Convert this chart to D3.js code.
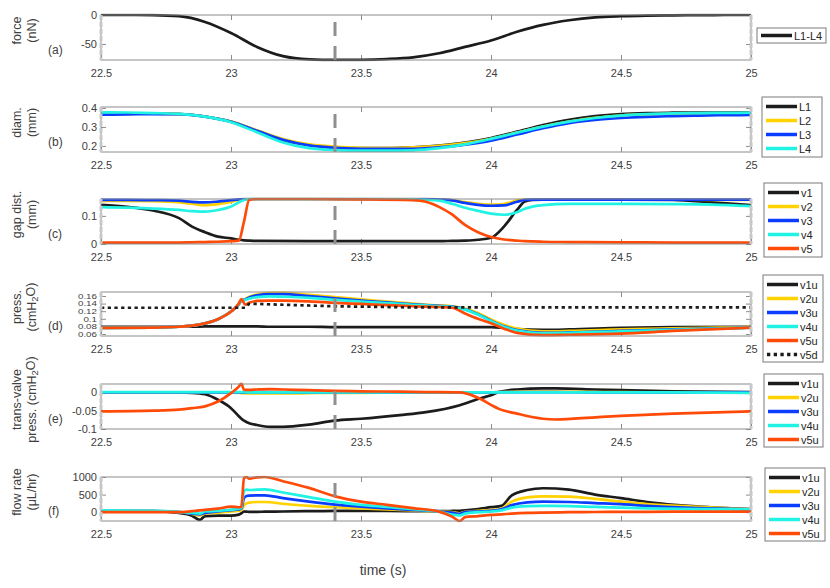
<!DOCTYPE html>
<html lang="en">
<head>
  <meta charset="UTF-8">
  <title>Valve dynamics</title>
  <script src="https://d3js.org/d3.v7.min.js"></script>
  <style>
    html, body { margin: 0; padding: 0; background: #fff; }
    svg { font-family: "Liberation Sans", Arial, sans-serif; }
    .line { fill: none; stroke-width: 2.7px; stroke-linejoin: round; stroke-linecap: round; }
    .tick line { stroke: #8c8c8c; }
    .tick text { fill: #404040; }
  </style>
</head>
<body>
  <div id="container"></div>
  <script>
    // ---- time axis
    const xTicks = [22.5, 23, 23.5, 24, 24.5, 25];
    const markerTime = 23.4;

    // ---- (a) force
    const tA = [22.5, 22.6, 22.7, 22.8, 22.9, 23.0, 23.1, 23.2, 23.3, 23.4, 23.5, 23.6, 23.7, 23.8, 23.9, 24.0, 24.1, 24.2, 24.3, 24.4, 24.5, 24.6, 24.7, 24.8, 24.9, 25.0];
    const forceL = [0, 0, -0.3, -2, -12, -31, -55, -71, -76.5, -77.5, -77.3, -76, -73, -66, -55, -44, -29, -17, -9, -4, -2, -1, -0.5, -0.2, 0, 0];

    // ---- (b) diameter
    const tB = tA;
    const diamL1 = [0.37, 0.37, 0.37, 0.368, 0.355, 0.328, 0.28, 0.232, 0.205, 0.193, 0.188, 0.188, 0.192, 0.202, 0.218, 0.242, 0.275, 0.31, 0.338, 0.357, 0.368, 0.373, 0.375, 0.376, 0.376, 0.376];
    const diamL2 = [0.368, 0.369, 0.37, 0.368, 0.355, 0.328, 0.282, 0.236, 0.208, 0.196, 0.19, 0.189, 0.192, 0.2, 0.215, 0.238, 0.27, 0.302, 0.328, 0.348, 0.36, 0.366, 0.369, 0.37, 0.37, 0.37];
    const diamL3 = [0.365, 0.366, 0.368, 0.367, 0.354, 0.327, 0.28, 0.232, 0.203, 0.19, 0.185, 0.184, 0.185, 0.192, 0.207, 0.228, 0.26, 0.293, 0.32, 0.337, 0.347, 0.353, 0.357, 0.36, 0.362, 0.363];
    const diamL4 = [0.377, 0.376, 0.373, 0.369, 0.354, 0.325, 0.272, 0.218, 0.188, 0.178, 0.175, 0.175, 0.177, 0.188, 0.208, 0.237, 0.27, 0.302, 0.328, 0.347, 0.36, 0.367, 0.371, 0.373, 0.374, 0.375];

    // ---- (c) gap distance
    const tC = [22.5, 22.6, 22.7, 22.8, 22.85, 22.9, 22.95, 23.0, 23.03, 23.05, 23.07, 23.1, 23.3, 23.5, 23.7, 23.75, 23.8, 23.85, 23.9, 23.95, 24.0, 24.05, 24.1, 24.13, 24.16, 24.2, 24.3, 24.5, 24.7, 24.85, 25.0];
    const gapV1 = [0.139, 0.132, 0.119, 0.092, 0.062, 0.042, 0.026, 0.02, 0.015, 0.013, 0.012, 0.011, 0.01, 0.01, 0.01, 0.01, 0.01, 0.011, 0.012, 0.015, 0.022, 0.062, 0.121, 0.151, 0.157, 0.158, 0.158, 0.158, 0.157, 0.148, 0.138];
    const gapV2 = [0.153, 0.153, 0.152, 0.148, 0.143, 0.138, 0.142, 0.15, 0.156, 0.159, 0.16, 0.16, 0.16, 0.16, 0.16, 0.16, 0.159, 0.156, 0.149, 0.143, 0.14, 0.142, 0.155, 0.158, 0.158, 0.158, 0.158, 0.158, 0.158, 0.157, 0.157];
    const gapV3 = [0.157, 0.157, 0.156, 0.154, 0.15, 0.148, 0.151, 0.156, 0.159, 0.16, 0.16, 0.16, 0.16, 0.16, 0.16, 0.16, 0.158, 0.155, 0.146, 0.139, 0.136, 0.137, 0.15, 0.157, 0.158, 0.158, 0.158, 0.158, 0.158, 0.158, 0.158];
    const gapV4 = [0.131, 0.129, 0.126, 0.121, 0.117, 0.115, 0.121, 0.133, 0.148, 0.157, 0.16, 0.16, 0.16, 0.16, 0.159, 0.157, 0.154, 0.143, 0.129, 0.118, 0.108, 0.104, 0.113, 0.125, 0.133, 0.138, 0.143, 0.143, 0.142, 0.14, 0.135];
    const gapV5 = [0.005, 0.005, 0.005, 0.005, 0.006, 0.007, 0.008, 0.01, 0.012, 0.08, 0.157, 0.16, 0.16, 0.159, 0.156, 0.15, 0.132, 0.105, 0.068, 0.042, 0.025, 0.016, 0.012, 0.01, 0.009, 0.008, 0.007, 0.006, 0.005, 0.005, 0.005];

    // ---- (d) pressure
    const tD = [22.5, 22.7, 22.8, 22.85, 22.9, 22.95, 23.0, 23.03, 23.04, 23.055, 23.07, 23.1, 23.15, 23.2, 23.3, 23.4, 23.5, 23.6, 23.7, 23.8, 23.85, 23.9, 23.95, 24.0, 24.05, 24.1, 24.2, 24.3, 24.5, 24.7, 25.0];
    const pressV1u = [0.079, 0.079, 0.079, 0.079, 0.08, 0.08, 0.08, 0.08, 0.08, 0.08, 0.08, 0.08, 0.079, 0.079, 0.079, 0.078, 0.078, 0.078, 0.078, 0.078, 0.078, 0.078, 0.078, 0.078, 0.076, 0.073, 0.071, 0.072, 0.076, 0.078, 0.079];
    const pressV2u = [0.076, 0.077, 0.079, 0.082, 0.088, 0.099, 0.119, 0.138, 0.148, 0.152, 0.158, 0.164, 0.168, 0.168, 0.163, 0.157, 0.151, 0.145, 0.14, 0.135, 0.133, 0.127, 0.115, 0.098, 0.084, 0.074, 0.067, 0.068, 0.072, 0.075, 0.078];
    const pressV3u = [0.076, 0.077, 0.079, 0.082, 0.088, 0.099, 0.119, 0.138, 0.148, 0.151, 0.156, 0.162, 0.165, 0.165, 0.16, 0.154, 0.148, 0.143, 0.138, 0.134, 0.132, 0.125, 0.112, 0.095, 0.08, 0.07, 0.063, 0.064, 0.068, 0.072, 0.077];
    const pressV4u = [0.076, 0.077, 0.079, 0.082, 0.088, 0.099, 0.119, 0.138, 0.148, 0.15, 0.153, 0.157, 0.159, 0.158, 0.155, 0.15, 0.145, 0.141, 0.137, 0.133, 0.131, 0.124, 0.111, 0.094, 0.079, 0.069, 0.062, 0.063, 0.067, 0.071, 0.077];
    const pressV5u = [0.076, 0.077, 0.079, 0.082, 0.088, 0.099, 0.119, 0.14, 0.152, 0.137, 0.142, 0.147, 0.148, 0.148, 0.146, 0.142, 0.139, 0.136, 0.133, 0.131, 0.129, 0.114, 0.1, 0.088, 0.074, 0.063, 0.057, 0.058, 0.061, 0.068, 0.077];
    const pressV5d = [0.129, 0.129, 0.129, 0.129, 0.129, 0.129, 0.129, 0.129, 0.129, 0.129, 0.139, 0.139, 0.138, 0.137, 0.135, 0.133, 0.132, 0.131, 0.13, 0.13, 0.13, 0.13, 0.13, 0.13, 0.13, 0.13, 0.13, 0.13, 0.13, 0.13, 0.13];

    // ---- (e) trans-valve pressure
    const tE = [22.5, 22.7, 22.8, 22.85, 22.9, 22.95, 23.0, 23.03, 23.04, 23.05, 23.07, 23.1, 23.15, 23.2, 23.3, 23.4, 23.5, 23.65, 23.75, 23.88, 23.96, 24.0, 24.03, 24.1, 24.2, 24.25, 24.4, 24.5, 24.7, 25.0];
    const tvV1u = [0, 0, 0, -0.001, -0.005, -0.02, -0.043, -0.065, -0.072, -0.077, -0.084, -0.089, -0.094, -0.094, -0.088, -0.077, -0.072, -0.062, -0.054, -0.035, -0.016, -0.008, 0.001, 0.008, 0.011, 0.011, 0.008, 0.006, 0.003, 0.001];
    const tvV2u = [0, 0, 0, 0, 0, 0, 0, -0.001, -0.002, -0.002, -0.003, -0.003, -0.003, -0.003, -0.002, -0.001, -0.001, 0, 0, 0, 0, 0, 0.001, 0.002, 0.002, 0.002, 0.001, 0.001, 0, 0];
    const tvV3u = [0, 0, 0, 0, 0, 0, 0, 0, 0, 0, 0.001, 0.001, 0.001, 0, 0, 0, 0, 0, 0, 0, 0, 0, 0.001, 0.001, 0.001, 0.001, 0, 0, 0, 0];
    const tvV4u = [0.001, 0.001, 0.001, 0.001, 0.001, 0.001, 0.001, 0.001, 0.001, 0.001, 0, 0, 0, 0, 0, 0, 0, 0, 0, 0, 0, 0, 0, 0, 0, 0, 0, 0, 0, -0.001];
    const tvV5u = [-0.052, -0.05, -0.047, -0.043, -0.038, -0.025, -0.002, 0.016, 0.024, 0.007, 0.007, 0.008, 0.009, 0.008, 0.006, 0.004, 0.003, 0.002, 0.001, 0, -0.018, -0.034, -0.045, -0.058, -0.072, -0.074, -0.068, -0.064, -0.058, -0.052];

    // ---- (f) flow rate
    const tF = [22.5, 22.7, 22.8, 22.85, 22.88, 22.9, 22.95, 23.0, 23.03, 23.04, 23.05, 23.06, 23.07, 23.1, 23.13, 23.2, 23.3, 23.4, 23.5, 23.6, 23.7, 23.8, 23.85, 23.88, 23.9, 23.95, 24.0, 24.04, 24.08, 24.14, 24.2, 24.3, 24.4, 24.5, 24.6, 24.8, 25.0];
    const flowV1u = [30, 30, -20, -100, -220, -110, -95, -100, -70, -30, 20, 15, 10, 10, 15, 20, 30, 35, 40, 35, 30, 30, 35, 40, 50, 90, 143, 180, 480, 630, 680, 640, 500, 400, 290, 160, 85];
    const flowV2u = [30, 30, 0, -50, -90, -40, -10, 20, 40, 60, 200, 250, 270, 290, 290, 240, 180, 140, 110, 80, 50, 20, 0, -30, 10, 40, 60, 100, 300, 420, 450, 440, 380, 300, 230, 150, 80];
    const flowV3u = [30, 30, 0, -40, -60, -20, 20, 60, 80, 100, 400, 460, 470, 480, 480, 400, 300, 215, 160, 110, 65, 20, -10, -50, 0, 20, 40, 80, 200, 280, 300, 290, 260, 230, 180, 120, 80];
    const flowV4u = [50, 40, 10, -20, -40, 20, 40, 70, 100, 120, 600, 640, 630, 640, 650, 560, 430, 300, 210, 150, 85, 17, -70, -90, -40, 0, 20, 50, 130, 170, 180, 175, 150, 130, 110, 90, 80];
    const flowV5u = [0, 0, 0, 30, 50, 66, 100, 160, 140, 160, 970, 1000, 950, 990, 1000, 880, 690, 450, 300, 210, 115, 17, -125, -250, -140, -110, -77, -60, -40, -20, -10, 0, 5, 10, 12, 15, 17];

    const C = { k: '#1c1c1c', y: '#ffd200', b: '#0a3dff', c: '#20f2e4', o: '#ff4a08' };

    const width = 830, height = 588;
    const x = d3.scaleLinear().domain([22.5, 25]).range([101, 751]);

    const panels = [
      { top: 15, bottom: 60, domain: [-77.6, 0], yTicks: [-50, 0], tickFont: 11,
        title: ['force', '(nN)'], tag: '(a)', t: tA,
        series: [{ v: forceL, c: C.k, name: 'L1-L4' }],
        legend: { x: 757, y: 28, w: 69, h: 15 } },
      { top: 107, bottom: 152, domain: [0.168, 0.405], yTicks: [0.2, 0.3, 0.4], tickFont: 11,
        title: ['diam.', '(mm)'], tag: '(b)', t: tB,
        series: [{ v: diamL1, c: C.k, name: 'L1' }, { v: diamL2, c: C.y, name: 'L2' },
                 { v: diamL3, c: C.b, name: 'L3' }, { v: diamL4, c: C.c, name: 'L4' }],
        legend: { x: 762, y: 97, w: 60, h: 60 } },
      { top: 199, bottom: 244, domain: [0, 0.16], yTicks: [0, 0.1], tickFont: 11,
        title: ['gap dist.', '(mm)'], tag: '(c)', t: tC,
        series: [{ v: gapV1, c: C.k, name: 'v1' }, { v: gapV2, c: C.y, name: 'v2' },
                 { v: gapV3, c: C.b, name: 'v3' }, { v: gapV4, c: C.c, name: 'v4' },
                 { v: gapV5, c: C.o, name: 'v5' }],
        legend: { x: 764, y: 183, w: 58, h: 74 } },
      { top: 292, bottom: 336, domain: [0.0547, 0.1705], yTicks: [0.06, 0.08, 0.1, 0.12, 0.14, 0.16], tickFont: 7, tickStretch: 1.4,
        title: ['press.', '(cmH|2|O)'], tag: '(d)', t: tD,
        series: [{ v: pressV1u, c: C.k, name: 'v1u' }, { v: pressV2u, c: C.y, name: 'v2u' },
                 { v: pressV3u, c: C.b, name: 'v3u' }, { v: pressV4u, c: C.c, name: 'v4u' },
                 { v: pressV5u, c: C.o, name: 'v5u' }, { v: pressV5d, c: C.k, name: 'v5d', dotted: true }],
        legend: { x: 763, y: 275, w: 60, h: 87 } },
      { top: 384, bottom: 429, domain: [-0.1, 0.023], yTicks: [-0.1, -0.05, 0], tickFont: 11,
        title: ['trans-valve', 'press. (cmH|2|O)'], tag: '(e)', t: tE,
        series: [{ v: tvV1u, c: C.k, name: 'v1u' }, { v: tvV2u, c: C.y, name: 'v2u' },
                 { v: tvV3u, c: C.b, name: 'v3u' }, { v: tvV4u, c: C.c, name: 'v4u' },
                 { v: tvV5u, c: C.o, name: 'v5u' }],
        legend: { x: 764, y: 374, w: 59, h: 73 } },
      { top: 477, bottom: 521, domain: [-250, 1000], yTicks: [0, 500, 1000], tickFont: 11,
        title: ['flow rate', '(μL/hr)'], tag: '(f)', t: tF,
        series: [{ v: flowV1u, c: C.k, name: 'v1u' }, { v: flowV2u, c: C.y, name: 'v2u' },
                 { v: flowV3u, c: C.b, name: 'v3u' }, { v: flowV4u, c: C.c, name: 'v4u' },
                 { v: flowV5u, c: C.o, name: 'v5u' }],
        legend: { x: 765, y: 468, w: 60, h: 73 } }
    ];

    const svg = d3.select('#container').append('svg')
      .attr('width', width).attr('height', height);

    // text with optional subscript, written as 'cmH|2|O'
    function richText(sel, str) {
      str.split('|').forEach((part, i) => {
        const ts = sel.append('tspan').text(part);
        if (i % 2 === 1) ts.attr('font-size', '75%').attr('dy', '0.3em');
        else if (i > 0) ts.attr('dy', '-0.3em');
      });
    }

    panels.forEach((p, pi) => {
      const y = d3.scaleLinear().domain(p.domain).range([p.bottom, p.top]);
      const g = svg.append('g');
      const clipId = 'clip' + pi;

      g.append('clipPath').attr('id', clipId).append('rect')
        .attr('x', x.range()[0]).attr('y', p.top - 1.5)
        .attr('width', x.range()[1] - x.range()[0]).attr('height', p.bottom - p.top + 3);

      // axes (ticks point inward, MATLAB style)
      const xb = g.append('g').attr('transform', `translate(0,${p.bottom})`)
        .call(d3.axisBottom(x).tickValues(xTicks).tickSize(-5).tickSizeOuter(0).tickPadding(9).tickFormat(d => String(d)));
      const xt = g.append('g').attr('transform', `translate(0,${p.top})`)
        .call(d3.axisTop(x).tickValues(xTicks).tickSize(-5).tickSizeOuter(0).tickFormat(''));
      const yl = g.append('g').attr('transform', `translate(${x.range()[0]},0)`)
        .call(d3.axisLeft(y).tickValues(p.yTicks).tickSize(-5).tickSizeOuter(0).tickPadding(4).tickFormat(d => String(d)));
      const yr = g.append('g').attr('transform', `translate(${x.range()[1]},0)`)
        .call(d3.axisRight(y).tickValues(p.yTicks).tickSize(-5).tickSizeOuter(0).tickFormat(''));
      [xb, xt, yl, yr].forEach(a => { a.select('.domain').remove(); a.attr('font-family', null); });
      xb.selectAll('text').attr('font-size', 11);
      yl.selectAll('text').attr('font-size', p.tickFont);
      if (p.tickStretch) {
        // crowded ticks: small glyphs widened to the reference width
        yl.selectAll('text')
          .attr('x', -4 / p.tickStretch)
          .attr('transform', `scale(${p.tickStretch},1)`);
      }

      // data lines
      const line = d3.line()
        .x((d, i) => x(p.t[i]))
        .y(d => y(d))
        .curve(d3.curveMonotoneX);
      g.append('g').attr('clip-path', `url(#${clipId})`)
        .selectAll('.line').data(p.series).enter().append('path')
        .attr('class', 'line')
        .attr('d', d => line(d.v))
        .style('stroke', d => d.c)
        .style('stroke-dasharray', d => d.dotted ? '3.3,3.4' : null)
        .style('stroke-linecap', d => d.dotted ? 'butt' : null);

      // box
      g.append('rect')
        .attr('x', x.range()[0]).attr('y', p.top)
        .attr('width', x.range()[1] - x.range()[0]).attr('height', p.bottom - p.top)
        .attr('fill', 'none').attr('stroke', '#8c8c8c').attr('stroke-width', 1);

      // light grey limits at the window edges
      [22.5, 25].forEach(tv => {
        g.append('line')
          .attr('x1', x(tv)).attr('x2', x(tv)).attr('y1', p.top).attr('y2', p.bottom)
          .attr('stroke', '#c8c8c8').attr('stroke-width', 3).attr('stroke-dasharray', '5,2');
      });

      // marker time, dashed, drawn from the bottom
      g.append('line')
        .attr('x1', x(markerTime)).attr('x2', x(markerTime))
        .attr('y1', p.bottom).attr('y2', p.top)
        .attr('stroke', '#8f8f8f').attr('stroke-width', 3).attr('stroke-dasharray', '14,10');

      // y title (two lines) and tag
      const cy = (p.top + p.bottom) / 2 - 7;
      p.title.forEach((txt, li) => {
        const tx = g.append('text')
          .attr('transform', `translate(${li === 0 ? 21 : 35.5},${cy}) rotate(-90)`)
          .attr('text-anchor', 'middle').attr('font-size', 12.5).attr('fill', '#404040');
        richText(tx, txt);
      });
      g.append('text').attr('x', 48).attr('y', p.bottom - 6.5)
        .attr('font-size', 12).attr('fill', '#404040').text(p.tag);

      // legend
      const L = p.legend;
      const lg = g.append('g');
      lg.append('rect').attr('x', L.x).attr('y', L.y).attr('width', L.w).attr('height', L.h)
        .attr('fill', '#fff').attr('stroke', '#7a7a7a').attr('stroke-width', 1);
      const single = p.series.length === 1;
      p.series.forEach((s, si) => {
        const ey = single ? L.y + L.h / 2 : L.y + 9.5 + si * 14;
        const x0 = L.x + 4, x1 = L.x + 35;
        lg.append('line').attr('x1', x0).attr('x2', x1).attr('y1', ey).attr('y2', ey)
          .attr('stroke', s.c).attr('stroke-width', 3.5)
          .attr('stroke-dasharray', s.dotted ? '3.3,3.4' : null);
        lg.append('text').attr('x', x1 + 2).attr('y', ey + 4)
          .attr('font-size', 11).attr('fill', '#262626').text(s.name);
      });
    });

    svg.append('text')
      .attr('x', 383).attr('y', 575).attr('text-anchor', 'middle')
      .attr('font-size', 14).attr('fill', '#404040').text('time (s)');
  </script>
</body>
</html>
